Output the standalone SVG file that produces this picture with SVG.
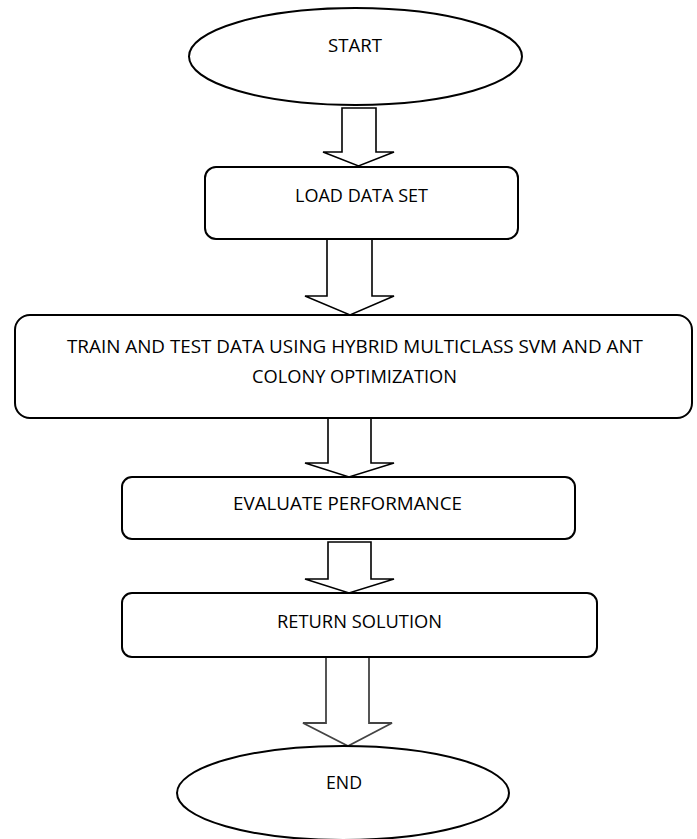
<svg xmlns="http://www.w3.org/2000/svg" width="697" height="839" viewBox="0 0 697 839">
<style>
.shape{fill:#fff;stroke:#000;stroke-width:2}
.arrow{fill:#fff;stroke:#000;stroke-width:1.6;stroke-linejoin:miter}
.arrow.soft{stroke:#444;stroke-width:1.8}
.lbl{font-family:"Open Sans","Liberation Sans",sans-serif;font-size:19px;fill:#000;text-anchor:middle}
</style>
<rect width="697" height="839" fill="#fff"/>
<g id="connectors">
<polygon class="arrow" points="342,108 376,108 376,152 394,152 358.5,166 323,152 342,152"/>
<polygon class="arrow" points="327,239 372,239 372,296 394,296 350,315 305,296 327,296"/>
<polygon class="arrow" points="328,418 371,418 371,463 394,463 349,477 305,463 328,463"/>
<polygon class="arrow" points="328,542 371,542 371,579 394,579 349,593 305,579 328,579"/>
<polygon class="arrow soft" points="326,657 369,657 369,723 392,723 348,746 303,723 326,723"/>
</g>
<g id="start">
<ellipse class="shape" cx="355.5" cy="56.5" rx="166.5" ry="48.5"/>
<text class="lbl" x="355" y="52" textLength="54" lengthAdjust="spacingAndGlyphs">START</text>
</g>
<g id="load">
<rect class="shape" x="205" y="167" width="313" height="72" rx="11"/>
<text class="lbl" x="361.5" y="201.5" textLength="133" lengthAdjust="spacingAndGlyphs">LOAD DATA SET</text>
</g>
<g id="train">
<rect class="shape" x="15" y="315" width="677" height="103" rx="15"/>
<text class="lbl" x="355" y="353" textLength="576" lengthAdjust="spacingAndGlyphs">TRAIN AND TEST DATA USING HYBRID MULTICLASS SVM AND ANT</text>
<text class="lbl" x="354.5" y="382.5" textLength="205" lengthAdjust="spacingAndGlyphs">COLONY OPTIMIZATION</text>
</g>
<g id="evaluate">
<rect class="shape" x="122" y="477" width="453" height="62" rx="10"/>
<text class="lbl" x="347.5" y="510" textLength="229" lengthAdjust="spacingAndGlyphs">EVALUATE PERFORMANCE</text>
</g>
<g id="return">
<rect class="shape" x="122" y="593" width="475" height="64" rx="10"/>
<text class="lbl" x="359.5" y="627.5" textLength="165" lengthAdjust="spacingAndGlyphs">RETURN SOLUTION</text>
</g>
<g id="end">
<ellipse class="shape" cx="343" cy="793" rx="166" ry="47"/>
<text class="lbl" x="344" y="789" textLength="36" lengthAdjust="spacingAndGlyphs">END</text>
</g>
</svg>
